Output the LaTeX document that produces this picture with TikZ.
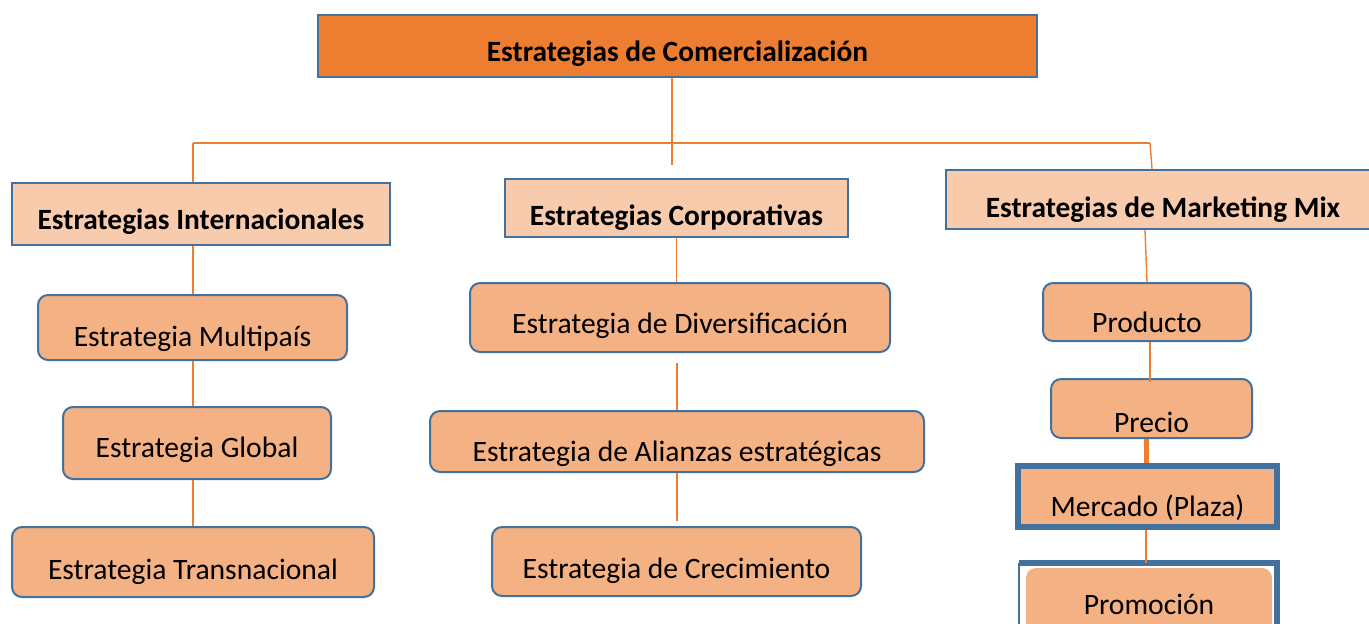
\documentclass[tikz,border=0pt]{standalone}
\usepackage{fontspec}
\setmainfont{Carlito}
\usetikzlibrary{positioning}

\definecolor{orangeMain}{HTML}{ED7D31}
\definecolor{peachHead}{HTML}{F8CBAD}
\definecolor{peachLeaf}{HTML}{F4B183}
\definecolor{boxBlue}{HTML}{41719C}

\tikzset{
  txt/.style={text height=#1, text depth=0pt},
  head/.style={draw=boxBlue, line width=1pt, fill=peachHead, inner sep=0pt,
    font=\fontsize{14.7}{17}\selectfont\bfseries},
  leaf/.style={draw=boxBlue, line width=1pt, fill=peachLeaf, rounded corners=5pt,
    inner sep=0pt, font=\fontsize{14.8}{17}\selectfont},
  link/.style={draw=orangeMain, line width=0.7pt},
  boldlink/.style={draw=orangeMain, line width=2.5pt},
}

\begin{document}
\begin{tikzpicture}[x=0.5pt, y=-0.5pt]
  \useasboundingbox (0,0) rectangle (1369,623);

  % top level
  \node[head, fill=orangeMain, minimum width=359.5pt, minimum height=31pt, txt=15.4pt]
    (root) at (677.5,46) {Estrategias de Comercialización};

  % second level
  \node[head, minimum width=189pt, minimum height=31pt, txt=15.4pt]
    (intl) at (201,214) {Estrategias Internacionales};
  \node[head, minimum width=171.5pt, minimum height=29pt, txt=17.4pt]
    (corp) at (676.5,208) {Estrategias Corporativas};
  \node[head, minimum width=217pt, minimum height=29.5pt, txt=17.9pt]
    (mkt) at (1163,199.5) {Estrategias de Marketing Mix};

  % international column
  \node[leaf, minimum width=154.5pt, minimum height=32.5pt, txt=18.9pt]
    (multi) at (192.5,327.5) {Estrategia Multipaís};
  \node[leaf, minimum width=134pt, minimum height=36pt, txt=14.4pt]
    (global) at (197,443) {Estrategia Global};
  \node[leaf, minimum width=181pt, minimum height=35pt, txt=17.4pt]
    (trans) at (193,562) {Estrategia Transnacional};

  % corporate column
  \node[leaf, minimum width=210pt, minimum height=34.5pt, txt=15.9pt]
    (divers) at (680,317.5) {Estrategia de Diversificación};
  \node[leaf, minimum width=247pt, minimum height=30.5pt, txt=19.9pt]
    (alianz) at (677,441.5) {Estrategia de Alianzas estratégicas};
  \node[leaf, minimum width=184.5pt, minimum height=34.5pt, txt=16.9pt]
    (crec) at (676.5,561.5) {Estrategia de Crecimiento};

  % marketing mix column
  \node[leaf, minimum width=104pt, minimum height=29pt, txt=20.4pt]
    (prod) at (1147,312) {Producto};
  \node[leaf, minimum width=100.5pt, minimum height=29.5pt, txt=23.9pt]
    (precio) at (1151.5,408.5) {Precio};
  \node[leaf, rounded corners=0pt, line width=2.75pt, minimum width=129.5pt,
    minimum height=30.5pt, txt=19.9pt]
    (merc) at (1147.5,496.5) {Mercado (Plaza)};
  \node[leaf, draw=none, minimum width=123pt, minimum height=36pt, txt=10.4pt]
    (promo) at (1149,604) {Promoción};
  \coordinate (promoTL) at (1019,563);
  \coordinate (promoTR) at (1277,563);
  \draw[boxBlue, line width=0.6pt] (promoTL) -- ++(0,80);
  \draw[boxBlue, line width=2.75pt] (promoTL) -- (promoTR) -- ++(0,80);

  % connectors
  \coordinate (stem) at (672,165);
  \coordinate (busL) at (193,143);
  \coordinate (busR) at (1150,143);
  \draw[link] (root.south -| stem) -- (stem);
  \draw[link] (busL) -- (busR);
  \draw[link] (busL) -- (busL |- intl.north);
  \draw[link] (busR) -- ([xshift=1pt]busR |- mkt.north);

  \draw[link] (intl.south -| busL) -- (busL |- multi.north);
  \draw[link] (multi.south -| busL) -- (busL |- global.north);
  \draw[link] (global.south -| busL) -- (busL |- trans.north);

  \coordinate (diversFoot) at ([yshift=-5pt]divers.south);
  \coordinate (crecHead) at ([yshift=2.5pt]crec.north);
  \draw[link] (corp.south) -- (divers.north -| corp.south);
  \draw[link] (diversFoot -| alianz.north) -- (alianz.north);
  \draw[link] (alianz.south) -- (crecHead -| alianz.south);

  \coordinate (mktFoot) at ([xshift=-9pt]mkt.south);
  \coordinate (precioHead) at ([xshift=-0.75pt,yshift=-2pt]precio.north);
  \coordinate (precioFoot) at ([xshift=-2.5pt]precio.south);
  \coordinate (mercFoot) at ([xshift=-0.75pt]merc.south);
  \draw[link] (mktFoot) -- (prod.north);
  \draw[link] (prod.south -| precioHead) -- (precioHead);
  \draw[boldlink] (precioFoot) -- (precioFoot |- merc.north);
  \draw[link] (mercFoot) -- (mercFoot |- promoTL);
\end{tikzpicture}
\end{document}
